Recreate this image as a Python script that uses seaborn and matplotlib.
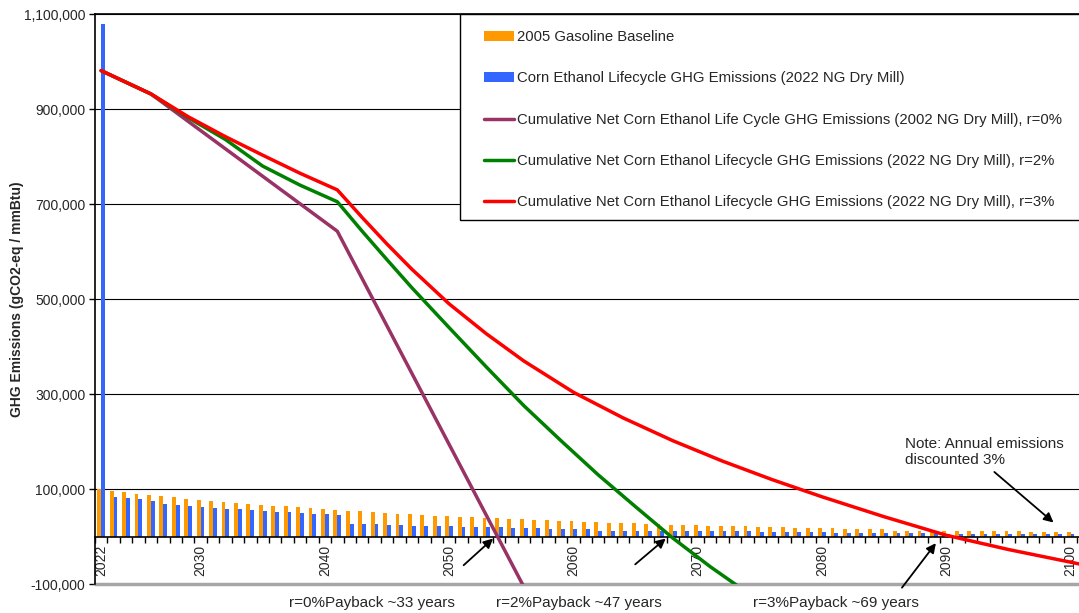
import pandas as pd
import numpy as np
import matplotlib
matplotlib.use('Agg')
import matplotlib.pyplot as plt
import seaborn as sns
from matplotlib.patches import Patch, Rectangle
from matplotlib.lines import Line2D
from matplotlib.ticker import FuncFormatter

# annual emissions, thousands of gCO2-eq / mmBtu, one value per year 2022-2101
years = list(range(2022, 2102))
gasoline = [100, 97, 94, 90, 88, 86, 84, 79, 77, 75,
            73, 71, 69, 67, 65, 65, 62, 60, 58, 56,
            54, 54, 52, 50, 48, 48, 45, 43, 43, 41,
            41, 39, 39, 37, 37, 35, 35, 33, 33, 30,
            30, 28, 28, 28, 26, 26, 24, 24, 24, 22,
            22, 22, 22, 20, 20, 20, 18, 18, 18, 18,
            16, 16, 16, 16, 13, 13, 13, 13, 13, 13,
            11, 11, 11, 11, 11, 9, 9, 9, 9, 9]
ethanol = [1080, 84, 82, 79, 75, 69, 67, 65, 62, 60,
           58, 58, 56, 54, 52, 52, 50, 48, 48, 45,
           26, 26, 26, 24, 24, 22, 22, 22, 22, 20,
           20, 20, 20, 18, 18, 18, 16, 16, 16, 16,
           13, 13, 13, 13, 13, 13, 11, 11, 11, 11,
           11, 11, 11, 9, 9, 9, 9, 9, 9, 7,
           7, 7, 7, 7, 7, 7, 7, 7, 5, 5,
           5, 5, 5, 5, 5, 5, 5, 5, 5, 5]

# cumulative net emissions (thousands)
r0_years = [2022, 2026, 2041, 2056]
r0_vals = [981, 932, 643, -105]
r2_years = [2022, 2026, 2029, 2032, 2035, 2038, 2041, 2043, 2045, 2047, 2050, 2053,
            2056, 2059, 2062, 2065, 2068, 2071, 2074, 2076]
r2_vals = [981, 932, 882, 836, 780, 740, 705, 643, 583, 524, 440, 357,
           276, 202, 130, 63, -3, -63, -118, -152]
r3_years = [2022, 2026, 2029, 2032, 2035, 2038, 2041, 2043, 2045, 2047, 2050, 2053,
            2056, 2060, 2064, 2068, 2072, 2076, 2080, 2085, 2090, 2095, 2101]
r3_vals = [981, 932, 884, 842, 803, 765, 730, 672, 616, 563, 490, 427,
           370, 304, 250, 202, 159, 120, 84, 42, 3, -27, -59]

bar_names = ['2005 Gasoline Baseline',
             'Corn Ethanol Lifecycle GHG Emissions (2022 NG Dry Mill)']
line_names = ['Cumulative Net Corn Ethanol Life Cycle GHG Emissions (2002 NG Dry Mill), r=0%',
              'Cumulative Net Corn Ethanol Lifecycle GHG Emissions (2022 NG Dry Mill), r=2%',
              'Cumulative Net Corn Ethanol Lifecycle GHG Emissions (2022 NG Dry Mill), r=3%']
bar_colors = ['#FF9900', '#3366FF']
line_colors = ['#993366', '#008000', '#FF0000']

sns.set_style('white')
plt.rcParams['font.family'] = ['Liberation Sans', 'DejaVu Sans']

bars = pd.DataFrame({
    'year': years + years,
    'value': [v * 1000 for v in gasoline + ethanol],
    'series': [bar_names[0]] * len(years) + [bar_names[1]] * len(years),
})
lines = pd.concat([
    pd.DataFrame({'year': r0_years, 'value': [v * 1000 for v in r0_vals], 'series': line_names[0]}),
    pd.DataFrame({'year': r2_years, 'value': [v * 1000 for v in r2_vals], 'series': line_names[1]}),
    pd.DataFrame({'year': r3_years, 'value': [v * 1000 for v in r3_vals], 'series': line_names[2]}),
])

fig = plt.figure(figsize=(10.79, 6.13), dpi=100)
ax = fig.add_axes([0.088, 0.047, 0.912, 0.930])

sns.barplot(data=bars, x='year', y='value', hue='series', hue_order=bar_names,
            palette=bar_colors, native_scale=True, width=0.62, saturation=1,
            linewidth=0, legend=False, ax=ax)
sns.lineplot(data=lines, x='year', y='value', hue='series', hue_order=line_names,
             palette=line_colors, linewidth=2.5, legend=False, ax=ax, zorder=3)

ax.set_xlim(2021.56, 2100.68)
ax.set_ylim(-100000, 1100000)

# y axis
ax.set_yticks(range(-100000, 1100001, 200000))
ax.yaxis.set_major_formatter(FuncFormatter(lambda v, p: f'{v:,.0f}'))
ax.tick_params(axis='y', length=4, width=1, color='black', labelsize=10, pad=3, left=True)
ax.yaxis.grid(True, color='black', lw=0.8)
ax.xaxis.grid(False)
ax.set_axisbelow(True)
ax.set_ylabel('GHG Emissions (gCO2-eq / mmBtu)', fontweight='bold', fontsize=10, labelpad=0)
ax.set_xlabel('')

# x axis sits on zero
ax.spines['bottom'].set_position(('data', 0))
ax.spines['right'].set_visible(False)
for s in ['left', 'bottom', 'top']:
    ax.spines[s].set_color('black')
    ax.spines[s].set_linewidth(1.2)
ax.set_xticks(list(range(2030, 2101, 10)) + [2022])
ax.set_xticklabels([str(y) for y in range(2030, 2101, 10)] + ['2022'], rotation=90)
ax.set_xticks(np.arange(2021.5, 2101.5, 1), minor=True)
ax.tick_params(axis='x', which='major', length=0, pad=6, labelsize=10)
ax.tick_params(axis='x', which='minor', length=4, width=1, color='black', direction='out', bottom=True)
ax.axhline(-100000, color='#A6A6A6', lw=2.5, zorder=1, clip_on=False)

# payback annotations
arrow = dict(arrowstyle='-|>', color='black', lw=1.3, mutation_scale=14)
ax.annotate('', xy=(2053.7, 0), xytext=(2051.0, -64000), arrowprops=arrow, annotation_clip=False)
ax.annotate('', xy=(2067.6, 0), xytext=(2064.8, -62000), arrowprops=arrow, annotation_clip=False)
ax.annotate('', xy=(2089.3, -9000), xytext=(2086.3, -112000), arrowprops=arrow, annotation_clip=False)
ax.annotate('', xy=(2098.8, 26000), xytext=(2093.7, 140000), arrowprops=arrow, annotation_clip=False)
ax.text(2043.8, -140000, 'r=0%Payback ~33 years', ha='center', va='center', fontsize=11, clip_on=False)
ax.text(2060.4, -140000, 'r=2%Payback ~47 years', ha='center', va='center', fontsize=11, clip_on=False)
ax.text(2081.1, -140000, 'r=3%Payback ~69 years', ha='center', va='center', fontsize=11, clip_on=False)
ax.text(2086.7, 179000, 'Note: Annual emissions\ndiscounted 3%', ha='left', va='center',
        fontsize=11, linespacing=1.2)

# legend box runs past the right edge of the picture
ax.add_patch(Rectangle((0.371, 0.6386), 0.7, 0.3614, transform=ax.transAxes,
                       facecolor='white', edgecolor='black', lw=1.0, zorder=4, clip_on=False))
handles = [Patch(facecolor=bar_colors[0], edgecolor='none'),
           Patch(facecolor=bar_colors[1], edgecolor='none')]
handles += [Line2D([0], [0], color=c, lw=2.5) for c in line_colors]
leg = ax.legend(handles, bar_names + line_names, loc='upper left', bbox_to_anchor=(0.3953, 0.972),
                fontsize=10.7, labelspacing=1.84, handlelength=2.0, handleheight=0.6,
                handletextpad=0.2, borderpad=0, borderaxespad=0, frameon=False)
leg.set_zorder(5)

plt.savefig('out.png', dpi=100)
